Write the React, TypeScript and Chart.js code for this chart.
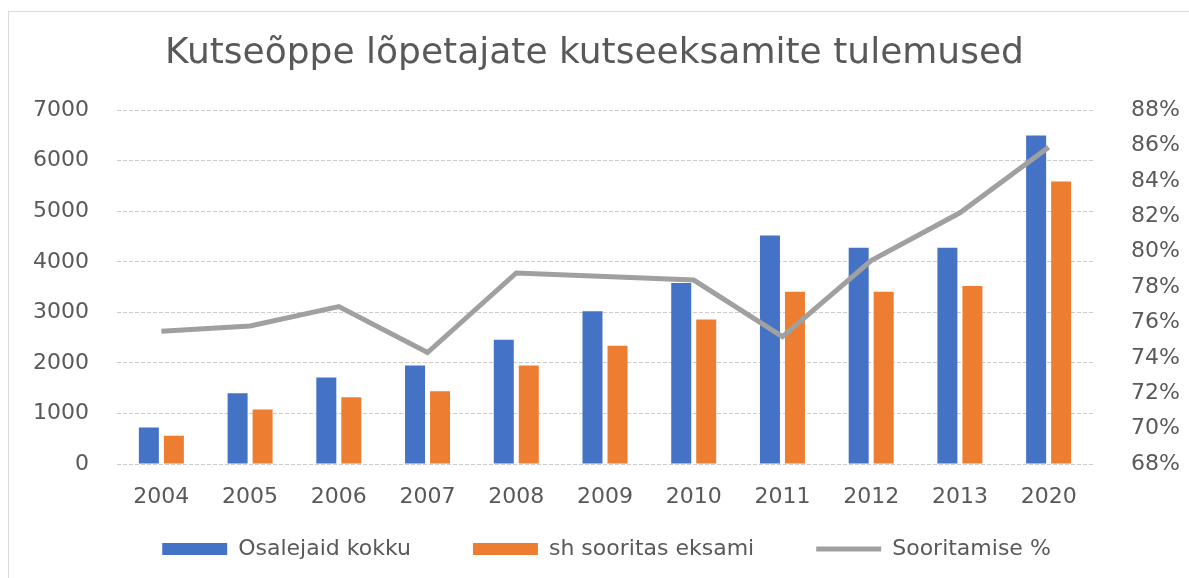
import React, { useEffect, useRef } from "react";
import { Chart, registerables } from "chart.js";

Chart.register(...registerables);

const titleText = "Kutseõppe lõpetajate kutseeksamite tulemused";
const categories = ["2004", "2005", "2006", "2007", "2008", "2009", "2010", "2011", "2012", "2013", "2020"];
const seriesNames = ["Osalejaid kokku", "sh sooritas eksami", "Sooritamise %"];
const participants = [720, 1400, 1710, 1950, 2460, 3020, 3580, 4520, 4280, 4280, 6500];
const passed = [560, 1080, 1320, 1440, 1950, 2340, 2860, 3410, 3410, 3520, 5590];
const passRate = [75.5, 75.8, 76.9, 74.3, 78.8, 78.6, 78.4, 75.2, 79.5, 82.2, 85.9];
const leftTicks = [0, 1000, 2000, 3000, 4000, 5000, 6000, 7000];
const rightTicks = [68, 70, 72, 74, 76, 78, 80, 82, 84, 86, 88];

const FONT = "'DejaVu Sans', sans-serif";
const TEXT = "#595959";

const legendShift = {
  id: "legendShift",
  afterLayout(chart: any) {
    const l = chart.legend;
    if (l && chart.chartArea) {
      l.top = chart.chartArea.bottom + 12;
      l.left += 12;
      l.right += 12;
    }
  },
};

export default function App() {
  const ref = useRef<HTMLCanvasElement | null>(null);

  useEffect(() => {
    if (!ref.current) return;
    const chart = new Chart(ref.current, {
      type: "bar",
      data: {
        labels: categories,
        datasets: [
          {
            type: "bar",
            label: seriesNames[0],
            data: participants,
            backgroundColor: "#4472C4",
            borderWidth: 0,
            yAxisID: "y",
            order: 1,
            pointStyle: "rect",
            categoryPercentage: 0.5636,
            barPercentage: 0.8,
          },
          {
            type: "bar",
            label: seriesNames[1],
            data: passed,
            backgroundColor: "#ED7D31",
            borderWidth: 0,
            yAxisID: "y",
            order: 1,
            pointStyle: "rect",
            categoryPercentage: 0.5636,
            barPercentage: 0.8,
          },
          {
            type: "line",
            label: seriesNames[2],
            data: passRate,
            borderColor: "#A0A0A0",
            backgroundColor: "#A0A0A0",
            borderWidth: 5,
            pointRadius: 0,
            tension: 0,
            yAxisID: "y2",
            order: 0,
            pointStyle: "line",
          },
        ],
      } as any,
      plugins: [legendShift],
      options: {
        responsive: false,
        animation: false,
        layout: { padding: { top: 0, left: 0, right: 0, bottom: 6 } },
        plugins: {
          title: {
            display: true,
            text: titleText,
            color: TEXT,
            font: { family: FONT, size: 36, weight: "normal" },
            padding: { top: 32, bottom: 35 },
          },
          legend: {
            position: "bottom",
            maxHeight: 60,
            labels: {
              usePointStyle: true,
              pointStyleWidth: 65,
              boxWidth: 65,
              boxHeight: 12,
              padding: 62,
              color: TEXT,
              font: { family: FONT, size: 22 },
              sort: (a: any, b: any) => a.datasetIndex - b.datasetIndex,
            },
          },
          tooltip: { enabled: false },
        },
        scales: {
          x: {
            grid: { display: false },
            border: { display: false },
            ticks: {
              color: TEXT,
              font: { family: FONT, size: 22 },
              padding: 12,
              maxRotation: 0,
              autoSkip: false,
            },
            afterFit: (s: any) => {
              s.height = 48;
            },
          },
          y: {
            position: "left",
            min: leftTicks[0],
            max: leftTicks[leftTicks.length - 1],
            afterBuildTicks: (s: any) => {
              s.ticks = leftTicks.map((v) => ({ value: v }));
            },
            grid: { color: "#cccccc", lineWidth: 1, drawTicks: false },
            border: { display: false, dash: [4, 2] },
            ticks: {
              color: TEXT,
              font: { family: FONT, size: 22 },
              padding: 28,
              callback: (v: any) => String(v),
            },
            afterFit: (s: any) => {
              s.width = 117;
            },
          },
          y2: {
            position: "right",
            min: rightTicks[0],
            max: rightTicks[rightTicks.length - 1],
            afterBuildTicks: (s: any) => {
              s.ticks = rightTicks.map((v) => ({ value: v }));
            },
            grid: { display: false, drawTicks: false },
            border: { display: false },
            ticks: {
              color: TEXT,
              font: { family: FONT, size: 22 },
              padding: 38,
              callback: (v: any) => v + "%",
            },
            afterFit: (s: any) => {
              s.width = 96;
            },
          },
        },
      } as any,
    });
    return () => chart.destroy();
  }, []);

  return (
    <div style={{ position: "fixed", left: 0, top: 0, width: 1189, height: 578, background: "#fff", overflow: "hidden" }}>
      <canvas ref={ref} width={1189} height={578} style={{ position: "absolute", left: 0, top: 0, width: 1189, height: 578 }} />
      <div
        style={{
          position: "absolute",
          left: 8,
          top: 11,
          width: 1200,
          height: 600,
          borderLeft: "1px solid #d9d9d9",
          borderTop: "1px solid #d9d9d9",
          pointerEvents: "none",
        }}
      />
    </div>
  );
}
